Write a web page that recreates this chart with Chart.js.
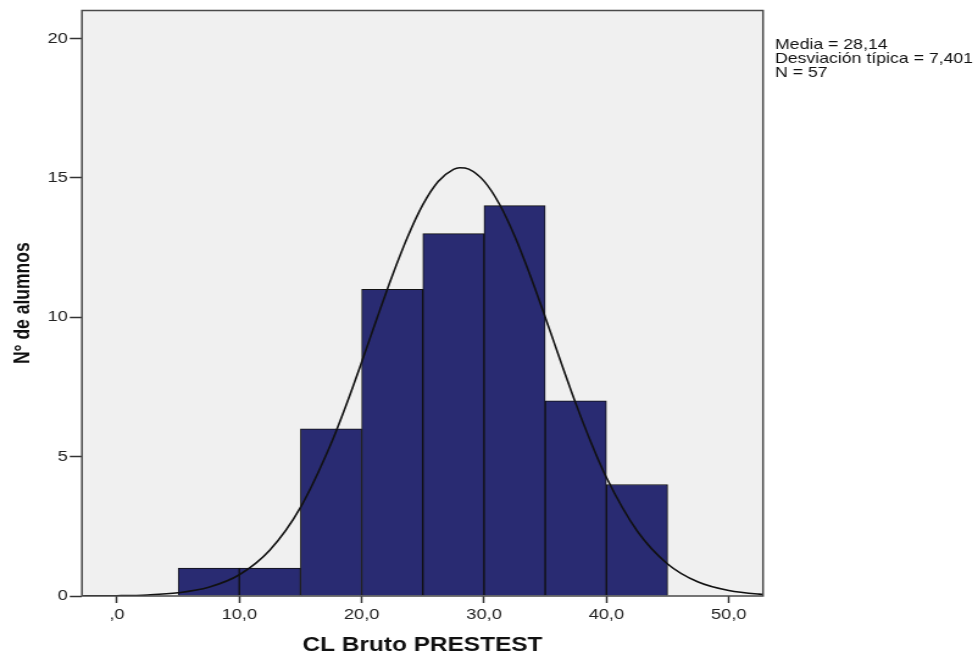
<!DOCTYPE html>
<html>
<head>
<meta charset="utf-8">
<script src="https://cdn.jsdelivr.net/npm/chart.js@4"></script>
<style>
    html, body { margin: 0; padding: 0; background: #fff; overflow: hidden; }
    #wrap { width: 802px; height: 661px; transform: scaleX(1.2195); transform-origin: 0 0; }
</style>
</head>
<body>
<div id="wrap"><canvas id="histChart" width="802" height="661"></canvas></div>
<script>
// histogram bins (width 5) and counts
const binCenters = [7.5, 12.5, 17.5, 22.5, 27.5, 32.5, 37.5, 42.5];
const binCounts = [1, 1, 6, 11, 13, 14, 7, 4];

// normal curve
const curveX = [-5, -2.5, 0, 2.5, 5, 7.5, 10, 12.5, 15, 17.5, 18.75, 20, 21.25, 22.5, 23.75, 25, 26.25, 27.5, 28, 28.75, 30, 31.25, 32.5, 33.75, 35, 36.25, 37.5, 38.75, 40, 42.5, 45, 47.5, 50, 52.5, 55];
const curveY = [0.001, 0.003, 0.011, 0.038, 0.116, 0.314, 0.762, 1.65, 3.18, 5.47, 6.87, 8.39, 9.96, 11.49, 12.88, 14.04, 14.87, 15.3, 15.36, 15.31, 14.88, 14.06, 12.91, 11.52, 10.0, 8.43, 6.9, 5.5, 4.25, 2.34, 1.15, 0.5, 0.196, 0.068, 0.02];

const xTickValues = [0, 10, 20, 30, 40, 50];
const xTickLabels = [",0", "10,0", "20,0", "30,0", "40,0", "50,0"];
const yTickValues = [0, 5, 10, 15, 20];
const yTickLabels = ["0", "5", "10", "15", "20"];

const statsLines = ["Media = 28,14", "Desviación típica = 7,401", "N = 57"];

const FONT = "'Liberation Sans', Arial, sans-serif";
Chart.defaults.font.family = FONT;

const plotFrame = {
    id: "plotFrame",
    beforeDraw(chart) {
        const { ctx, chartArea: a } = chart;
        ctx.save();
        ctx.fillStyle = "#f0f0f0";
        ctx.fillRect(a.left, a.top, a.right - a.left, a.bottom - a.top);
        ctx.restore();
    },
    afterDatasetsDraw(chart) {
        const { ctx, chartArea: a } = chart;
        ctx.save();
        ctx.strokeStyle = "#4a4a4a";
        ctx.lineWidth = 1.5;
        ctx.strokeRect(a.left, a.top, a.right - a.left, a.bottom - a.top);
        ctx.restore();
    },
    afterDraw(chart) {
        const ctx = chart.ctx;
        ctx.save();
        ctx.font = `14.5px ${FONT}`;
        ctx.fillStyle = "#111";
        ctx.textBaseline = "alphabetic";
        statsLines.forEach((line, i) => {
            ctx.fillText(line, 635.5, 49 + i * 14);
        });
        ctx.restore();
    },
};

const ctx = document.getElementById("histChart").getContext("2d");
new Chart(ctx, {
    type: "bar",
    data: {
        datasets: [
            {
                type: "line",
                data: curveX.map((x, i) => ({ x: x, y: curveY[i] })),
                borderColor: "#111",
                borderWidth: 1.6,
                pointRadius: 0,
                cubicInterpolationMode: "monotone",
                order: 0,
            },
            {
                type: "bar",
                data: binCenters.map((x, i) => ({ x: x, y: binCounts[i] })),
                backgroundColor: "#292b72",
                borderColor: "#111",
                borderWidth: 1,
                barPercentage: 1,
                categoryPercentage: 1,
                order: 1,
            },
        ],
    },
    options: {
        responsive: false,
        devicePixelRatio: 1,
        animation: false,
        layout: { padding: { left: 0, top: 7, right: 176.3, bottom: 0 } },
        plugins: {
            legend: { display: false },
            tooltip: { enabled: false },
        },
        scales: {
            x: {
                type: "linear",
                min: -2.86,
                max: 52.8,
                offset: false,
                afterBuildTicks: (s) => {
                    s.ticks = xTickValues.map((v) => ({ value: v }));
                },
                afterFit: (s) => {
                    s.height = 65;
                },
                grid: {
                    offset: false,
                    drawOnChartArea: false,
                    drawTicks: true,
                    tickLength: 7,
                    tickColor: "#333",
                    tickWidth: 1.5,
                },
                border: { display: false },
                ticks: {
                    padding: 3,
                    autoSkip: false,
                    maxRotation: 0,
                    color: "#222",
                    font: { size: 15 },
                    callback: (v, i) => xTickLabels[i],
                },
                title: {
                    display: true,
                    text: "CL Bruto PRESTEST",
                    color: "#111",
                    font: { size: 20, weight: "bold" },
                    padding: { top: 0, bottom: 3.5 },
                },
            },
            y: {
                min: 0,
                max: 21,
                afterBuildTicks: (s) => {
                    s.ticks = yTickValues.map((v) => ({ value: v }));
                },
                afterFit: (s) => {
                    s.width = 67.2;
                },
                grid: {
                    drawOnChartArea: false,
                    drawTicks: true,
                    tickLength: 10,
                    tickColor: "#333",
                    tickWidth: 1.5,
                },
                border: { display: false },
                ticks: {
                    padding: 1.5,
                    color: "#222",
                    font: { size: 15 },
                    callback: (v, i) => yTickLabels[i],
                },
                title: {
                    display: true,
                    text: "N° de alumnos",
                    color: "#111",
                    font: { size: 17.5, weight: "bold" },
                    padding: { top: 9, bottom: 0 },
                },
            },
        },
    },
    plugins: [plotFrame],
});
</script>
</body>
</html>
